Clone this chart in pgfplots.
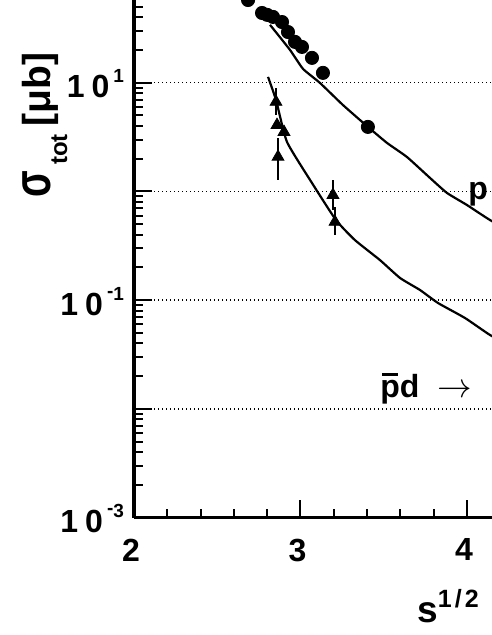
\documentclass[border=0pt]{standalone}
\usepackage{fontspec}
\setmainfont{Liberation Sans}
\usepackage{graphicx}
\usepackage{pgfplots}
\pgfplotsset{compat=1.18}

% tick label of the form "1 0^n"
\newcommand{\dec}[1]{1\hspace{3.5pt}0\raisebox{7.5pt}{\fontsize{9.5}{9.5}\selectfont\hspace{2pt}#1}}
\newcommand{\sm}{\raisebox{1.5pt}{-}}

\begin{document}
\begin{tikzpicture}
\begin{semilogyaxis}[
    name=ax,
    scale only axis,
    width=208.1pt, height=271.9pt,
    xmin=2, xmax=4.5,
    ymin=1e-3, ymax=1e2,
    axis x line*=bottom, axis y line*=left,
    axis line style={line width=1.6pt, -},
    tick align=inside,
    xtick={2,3,4}, xticklabels={2,3,4},
    minor x tick num=4,
    ytick={1e-3,1e-2,1e-1,1,1e1,1e2},
    yticklabels={\dec{\sm3},{},\dec{\sm1},{},\dec{1},{}},
    minor ytick={2e-3,3e-3,4e-3,5e-3,6e-3,7e-3,8e-3,9e-3,
                 2e-2,3e-2,4e-2,5e-2,6e-2,7e-2,8e-2,9e-2,
                 0.2,0.3,0.4,0.5,0.6,0.7,0.8,0.9,
                 2,3,4,5,6,7,8,9,20,30,40,50,60,70,80,90},
    major tick length=9pt, minor tick length=4.5pt,
    every tick/.style={black, line width=1pt},
    ymajorgrids,
    major grid style={black, line width=0.7pt, dash pattern=on 0.7pt off 1.3pt},
    ticklabel style={font=\fontsize{16}{16}\selectfont\bfseries},
    xticklabel style={yshift=-7pt, xshift=-1.5pt},
    yticklabel style={xshift=-1.5pt, yshift=-0.5pt},
    xlabel={s\raisebox{7.5pt}{\fontsize{12.5}{12.5}\selectfont 1\hspace{1.5pt}/\hspace{1.5pt}2}},
    xlabel style={at={(axis description cs:0.680,-0.1918)}, anchor=base west,
                  inner sep=0pt, font=\fontsize{18.5}{18.5}\selectfont\bfseries},
    ylabel={\scalebox{1}[1.35]{σ}\hspace{3pt}\raisebox{-8.5pt}{\fontsize{12}{12}\selectfont tot}\hspace{4pt}[μb]},
    ylabel style={at={(axis description cs:-0.2018,0.7222)}, anchor=base,
                  inner sep=0pt, font=\fontsize{19.5}{19.5}\selectfont\bfseries},
]

% fit curve, pbar p
\addplot[black, line width=1.1pt, smooth, tension=0.3] coordinates {
    (2.817,34.0) (2.937,20.0) (3.015,13.4) (3.117,9.94) (3.255,6.23)
    (3.405,3.92) (3.520,2.79) (3.640,2.07) (3.778,1.33) (3.880,0.968)
    (4.000,0.750) (4.138,0.546) (4.300,0.40)
};

% fit curve, pbar d
\addplot[black, line width=1.1pt, smooth, tension=0.3] coordinates {
    (2.805,11.3) (2.853,6.93) (2.919,2.85) (3.069,1.196) (3.213,0.546)
    (3.327,0.357) (3.477,0.234) (3.598,0.160) (3.718,0.124) (3.826,0.0942)
    (3.988,0.0686) (4.138,0.0479) (4.300,0.035)
};

% pbar p data
\addplot[only marks, mark=*, mark size=3.3pt, black] coordinates {
    (2.685,57.5) (2.769,43.7) (2.800,42.0) (2.835,40.2) (2.889,36.1)
    (2.925,29.2) (2.967,23.7) (3.009,21.3) (3.069,16.9) (3.135,12.3)
    (3.405,3.92)
};

% pbar d data
\addplot[only marks, mark=triangle*, mark size=3.4pt, black,
    error bars/.cd, y dir=both, y explicit, error mark=none,
    error bar style={line width=0.8pt, black}]
    table[x=x, y=y, y error plus=ep, y error minus=em] {
    x      y      ep     em
    2.853  6.65   2.28   1.60
    2.859  4.08   0.0    0.0
    2.901  3.52   0.0    0.0
    2.865  2.08   1.02   0.81
    3.195  0.927  0.34   0.25
    3.207  0.524  0.20   0.13
};

\node[anchor=base west, inner sep=0pt, font=\fontsize{16}{16}\selectfont\bfseries]
    at (axis cs:3.477,0.01262)
    {\makebox[0pt][l]{\hspace{0.9pt}\rule[11pt]{8pt}{1.3pt}}pd\hspace{9pt}{\fontsize{18}{18}\selectfont$\rightarrow$}};
\node[anchor=base west, inner sep=0pt, font=\fontsize{16}{16}\selectfont\bfseries]
    at (axis cs:4.006,0.834) {p};

\end{semilogyaxis}
\pgfresetboundingbox
\path[use as bounding box] ([shift={(-67pt,-58.65pt)}]ax.south west)
    rectangle ([shift={(178.5pt,258.85pt)}]ax.south west);
\end{tikzpicture}
\end{document}
